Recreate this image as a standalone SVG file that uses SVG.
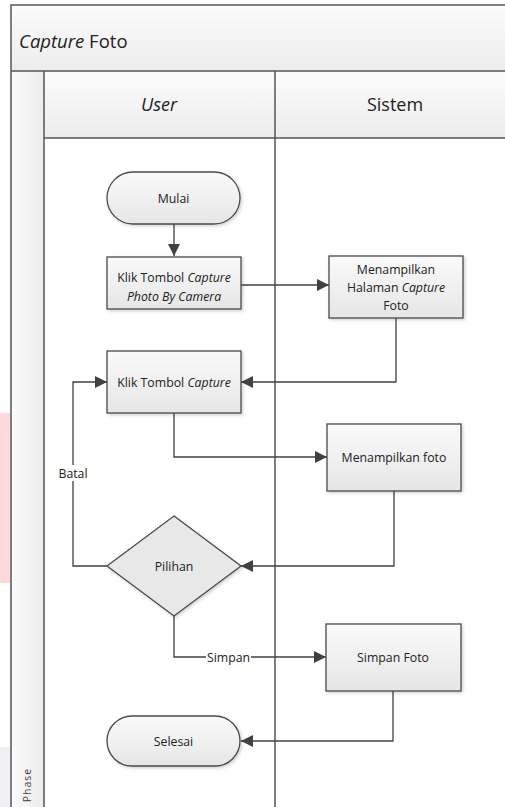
<svg xmlns="http://www.w3.org/2000/svg" width="505" height="807" viewBox="0 0 505 807">
<defs>
<linearGradient id="gBox" x1="0" y1="0" x2="0" y2="1"><stop offset="0" stop-color="#fafafa"/><stop offset="1" stop-color="#e6e6e6"/></linearGradient>
<linearGradient id="gHead" x1="0" y1="0" x2="0" y2="1"><stop offset="0" stop-color="#fcfcfc"/><stop offset="1" stop-color="#ececec"/></linearGradient>
<linearGradient id="gPhase" x1="0" y1="0" x2="1" y2="0"><stop offset="0" stop-color="#fbfbfb"/><stop offset="1" stop-color="#ececec"/></linearGradient>
<marker id="arr" viewBox="0 0 10 10" refX="10" refY="5" markerWidth="12" markerHeight="12" markerUnits="userSpaceOnUse" orient="auto"><path d="M0,0 L10,5 L0,10 Z" fill="#404040"/></marker>
<filter id="sh" x="-10%" y="-10%" width="130%" height="130%"><feDropShadow dx="1.5" dy="1.5" stdDeviation="1.5" flood-color="#000" flood-opacity="0.18"/></filter>
</defs>
<style>
.frame{fill:none;stroke:#555;stroke-width:1.5}
.node{fill:url(#gBox);stroke:#4a4a4a;stroke-width:1.3;filter:url(#sh)}
.lbl{font-family:"Open Sans","Liberation Sans",sans-serif;font-size:12.3px;fill:#222;text-anchor:middle}
.hd{font-family:"Open Sans","Liberation Sans",sans-serif;font-size:18px;fill:#222;text-anchor:middle}
.conn{fill:none;stroke:#404040;stroke-width:1.3}
.cl{font-family:"Open Sans","Liberation Sans",sans-serif;font-size:12.3px;fill:#222;text-anchor:middle}
</style>
<rect x="0" y="0" width="505" height="807" fill="#fff"/>
<rect x="0" y="413" width="10" height="170" fill="#fdd9db"/>
<rect x="0" y="747" width="10" height="60" fill="#f0f0f4"/>
<g id="pool">
<rect x="11" y="5" width="500" height="66" fill="url(#gHead)"/>
<rect x="11" y="71" width="33" height="740" fill="url(#gPhase)"/>
<rect x="44" y="71" width="470" height="67" fill="url(#gHead)"/>
<path class="frame" d="M511,5 H11 V812 M11,71 H511 M44,71 V812 M44,138 H511 M275,71 V812"/>
<text x="19" y="48" font-family="'Open Sans','Liberation Sans',sans-serif" font-size="18.5" fill="#222"><tspan font-style="italic">Capture</tspan> Foto</text>
<text class="hd" x="159" y="111" font-style="italic">User</text>
<text class="hd" x="395" y="111">Sistem</text>
<text x="31" y="785" transform="rotate(-90 31 785)" font-family="'Open Sans','Liberation Sans',sans-serif" font-size="10.5" fill="#444" text-anchor="middle" letter-spacing="1">Phase</text>
</g>
<g id="connectors">
<path class="conn" d="M174,224 V256" marker-end="url(#arr)"/>
<path class="conn" d="M241,285 H329" marker-end="url(#arr)"/>
<path class="conn" d="M396,318 V382 H241" marker-end="url(#arr)"/>
<path class="conn" d="M174,413 V457 H327" marker-end="url(#arr)"/>
<path class="conn" d="M394,491 V566 H241" marker-end="url(#arr)"/>
<path class="conn" d="M107,566 H73 V382 H107" marker-end="url(#arr)"/>
<path class="conn" d="M174,616 V657 H326" marker-end="url(#arr)"/>
<path class="conn" d="M393,691 V741 H241" marker-end="url(#arr)"/>
<rect x="55" y="465" width="37" height="16" fill="#fff"/>
<text class="cl" x="73" y="477.5">Batal</text>
<rect x="206" y="650" width="45" height="15" fill="#fff"/>
<text class="cl" x="228.5" y="661.5">Simpan</text>
</g>
<g id="mulai">
<rect class="node" x="107" y="172" width="133" height="52" rx="26"/>
<text class="lbl" x="173.5" y="202.5">Mulai</text>
</g>
<g id="klik-capture-camera">
<rect class="node" x="107" y="257" width="134" height="52"/>
<text class="lbl" x="174" y="282">Klik Tombol <tspan font-style="italic">Capture</tspan></text>
<text class="lbl" x="174" y="301" font-style="italic">Photo By Camera</text>
</g>
<g id="tampil-halaman">
<rect class="node" x="329" y="256" width="134" height="62"/>
<text class="lbl" x="396" y="274">Menampilkan</text>
<text class="lbl" x="396" y="292">Halaman <tspan font-style="italic">Capture</tspan></text>
<text class="lbl" x="396" y="309.5">Foto</text>
</g>
<g id="klik-capture">
<rect class="node" x="107" y="351" width="134" height="62"/>
<text class="lbl" x="174" y="386.5">Klik Tombol <tspan font-style="italic">Capture</tspan></text>
</g>
<g id="tampil-foto">
<rect class="node" x="327" y="424" width="134" height="67"/>
<text class="lbl" x="394" y="461.5">Menampilkan foto</text>
</g>
<g id="pilihan">
<polygon class="node" points="174,516 241,566 174,616 107,566" style="fill:#e8e8e8"/>
<text class="lbl" x="174" y="570.5">Pilihan</text>
</g>
<g id="simpan-foto">
<rect class="node" x="326" y="624" width="135" height="67"/>
<text class="lbl" x="393" y="661.5">Simpan Foto</text>
</g>
<g id="selesai">
<rect class="node" x="107" y="716" width="133" height="50" rx="25"/>
<text class="lbl" x="173.5" y="745.5">Selesai</text>
</g>
</svg>
